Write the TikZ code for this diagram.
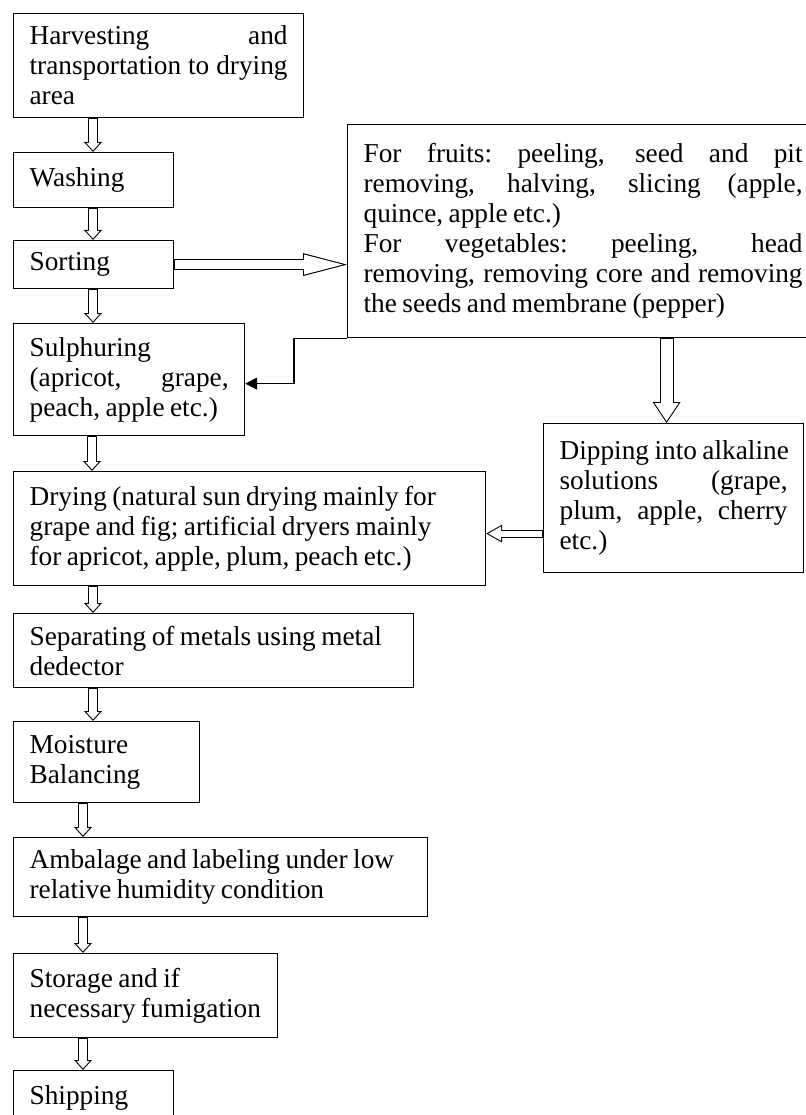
\documentclass[tikz,border=0pt]{standalone}
\usepackage{fontspec}
\setmainfont{Liberation Serif}
\usetikzlibrary{arrows.meta}
% stretch one line to the full box width
\newcommand{\jl}[1]{\leavevmode\hbox to\hsize{\spaceskip=0.2em plus 1fil\relax\xspaceskip=0.2em plus 1fil\relax #1}}
\newcommand{\tightwords}{\spaceskip=0.2em plus 0.1em minus 0.05em\relax\xspaceskip=0.25em\relax\hyphenpenalty=10000\relax}
\tikzstyle{box} = [draw=black, line width=1.2pt, anchor=north west,%
	inner xsep=16pt, inner ysep=0pt, align=left,%
	font=\fontsize{27.3pt}{30pt}\selectfont, execute at begin node=\tightwords]
\tikzstyle{hollow} = [draw=black, line width=10pt,%
	-{Triangle[width=18pt,length=10pt,line width=0pt]},%
	postaction = {draw=white, line width=7.8pt, shorten <=0.7pt, shorten >=1.6pt,%
	-{Triangle[width=13.3pt,length=7.4pt,line width=0pt]}}]
\tikzstyle{bighollow} = [draw=black, line width=14pt,%
	-{Triangle[width=28pt,length=21pt,line width=0pt]},%
	postaction = {draw=white, line width=11.8pt, shorten <=0.7pt, shorten >=1.9pt,%
	-{Triangle[width=24.2pt,length=18.1pt,line width=0pt]}}]
\tikzstyle{sidehollow} = [draw=black, line width=11pt,%
	-{Triangle[width=23pt,length=44pt,line width=0pt]},%
	postaction = {draw=white, line width=8.8pt, shorten <=0.7pt, shorten >=4.2pt,%
	-{Triangle[width=20.2pt,length=38.8pt,line width=0pt]}}]
\tikzstyle{backhollow} = [draw=black, line width=8pt,%
	-{Triangle[width=18pt,length=16pt,line width=0pt]},%
	postaction = {draw=white, line width=5.8pt, shorten <=0.7pt, shorten >=2.1pt,%
	-{Triangle[width=14.4pt,length=12.8pt,line width=0pt]}}]

\begin{document}
\begin{tikzpicture}[x=1pt, y=-1pt]
	\useasboundingbox (0,0) rectangle (805,1115);
	% left column
	\node[box, text width=258pt, minimum height=104pt] (harvest) at (13,13)
		{\jl{Harvesting and}\\ \jl{transportation to drying}\\ area};
	\node[box, text width=128pt, minimum height=55pt] (wash) at (13,152) {Washing};
	\node[box, text width=128pt, minimum height=48pt] (sort) at (13,240) {Sorting};
	\node[box, text width=199pt, minimum height=112pt] (sulph) at (13,323)
		{Sulphuring\\ \jl{(apricot, grape,}\\ peach, apple etc.)};
	\node[box, text width=440pt, minimum height=114pt] (dry) at (13,471)
		{Drying (natural sun drying mainly for\\ grape and fig; artificial dryers mainly\\ for apricot, apple, plum, peach etc.)};
	\node[box, text width=368pt, minimum height=74pt] (sep) at (13,613)
		{Separating of metals using metal\\ dedector};
	\node[box, text width=154pt, minimum height=81pt] (moist) at (13,721)
		{Moisture\\ Balancing};
	\node[box, text width=382pt, minimum height=79pt] (amb) at (13,837)
		{Ambalage and labeling under low\\ relative humidity condition};
	\node[box, text width=232pt, minimum height=84pt] (store) at (13,953)
		{Storage and if\\ necessary fumigation};
	\node[box, text width=128pt, minimum height=55pt] (ship) at (13,1070) {Shipping};
	% right side
	\node[box, text width=439pt, minimum height=213pt] (prep) at (347,124)
		{\jl{For fruits: peeling, seed and pit}\\ \jl{removing, halving, slicing (apple,}\\ quince, apple etc.)\\
		\jl{For vegetables: peeling, head}\\ \jl{removing, removing core and removing}\\ the seeds and membrane (pepper)};
	\node[box, text width=228pt, minimum height=149pt] (dip) at (543,423)
		{\jl{Dipping into alkaline}\\ \jl{solutions (grape,}\\ \jl{plum, apple, cherry}\\ etc.)};
	\coordinate (dipin) at ([xshift=-7pt]dip.north);

	\draw[hollow] ([xshift=80pt]harvest.south west) -- ([xshift=80pt]wash.north west);
	\draw[hollow] ([xshift=80pt]wash.south west) -- ([xshift=80pt]sort.north west);
	\draw[hollow] ([xshift=80pt]sort.south west) -- ([xshift=80pt]sulph.north west);
	\draw[hollow] ([xshift=79pt]sulph.south west) -- ([xshift=79pt]dry.north west);
	\draw[hollow] ([xshift=80pt]dry.south west) -- ([xshift=80pt]sep.north west);
	\draw[hollow] ([xshift=80pt]sep.south west) -- ([xshift=80pt]moist.north west);
	\draw[hollow] ([xshift=70pt]moist.south west) -- ([xshift=70pt]amb.north west);
	\draw[hollow] ([xshift=70pt]amb.south west) -- ([xshift=70pt]store.north west);
	\draw[hollow] ([xshift=70pt]store.south west) -- ([xshift=70pt]ship.north west);
	\draw[sidehollow] (sort.east) -- (sort.east -| prep.west);
	\draw[bighollow] (prep.south -| dipin) -- (dipin);
	\draw[backhollow] ([yshift=-5pt]dry.east -| dip.west) -- ([yshift=-5pt]dry.east);
	\draw[line width=1.2pt, -{Triangle[width=12pt,length=12pt]}]
		(prep.south west) -- ++(-53,0) |- ([yshift=-4pt]sulph.east);
\end{tikzpicture}
\end{document}
